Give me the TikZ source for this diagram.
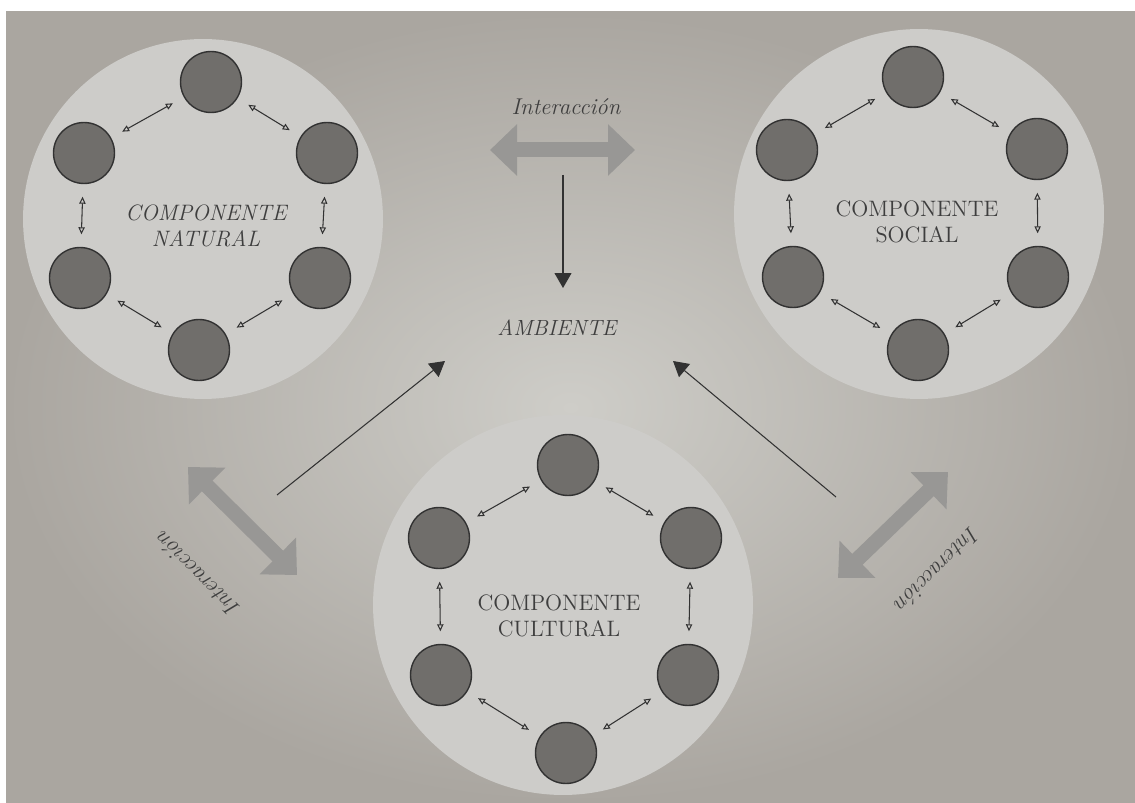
\documentclass[tikz,border=0pt]{standalone}
\usetikzlibrary{arrows.meta, positioning}
\definecolor{paperlight}{RGB}{206,205,200}
\definecolor{paperdark}{RGB}{170,166,160}
\definecolor{ringgray}{RGB}{205,204,201}
\definecolor{dotgray}{RGB}{112,110,107}
\definecolor{inkdark}{RGB}{50,50,50}
\definecolor{bandgray}{RGB}{152,151,149}
\definecolor{textdark}{RGB}{62,62,62}

\begin{document}
\begin{tikzpicture}[
    x=0.02cm, y=-0.02cm,
    ring/.style={circle, fill=ringgray, minimum size=#1, inner sep=0pt},
    dot/.style={circle, draw=inkdark, fill=dotgray, line width=0.8pt, minimum size=1.22cm, inner sep=0pt},
    link/.style={{Triangle[open,length=4pt,width=3.6pt]}-{Triangle[open,length=4pt,width=3.6pt]}, draw=inkdark, line width=0.6pt, shorten <=0.25cm, shorten >=0.25cm},
    band/.style={{Triangle[length=0.54cm,width=1cm]}-{Triangle[length=0.54cm,width=1cm]}, draw=bandgray, line width=0.3cm},
    pointer/.style={-{Triangle[length=0.3cm,width=0.34cm]}, draw=inkdark, line width=0.6pt},
    comptext/.style={align=center, text=textdark, font=\fontsize{12.7}{14.8}\selectfont},
    bandtext/.style={text=textdark, font=\fontsize{13}{15}\selectfont\itshape},
]

% Paper
\useasboundingbox (0,0) rectangle (1135,803);
\shade[inner color=paperlight, outer color=paperdark] (6,12) rectangle (1135,803);

% Components
\node[ring=7.2cm] (natural) at (203,219) {};
\node[ring=7.4cm] (social) at (919,214) {};
\node[ring=7.6cm] (cultural) at (563,605) {};

\node[comptext, font=\fontsize{12.7}{14.8}\selectfont\itshape] (naturaltext) at (206,226) {COMPONENTE\\NATURAL};
\node[comptext] (socialtext) at (917,222) {COMPONENTE\\SOCIAL};
\node[comptext] (culturaltext) at (559,616) {COMPONENTE\\CULTURAL};

% Natural elements
\node[dot] (n1) at (211,82) {};
\node[dot] (n2) at (327,153) {};
\node[dot] (n3) at (320,278) {};
\node[dot] (n4) at (199,350) {};
\node[dot] (n5) at (80,278) {};
\node[dot] (n6) at (84,153) {};

\draw[link] (n1) -- (n2);
\draw[link] (n2) -- (n3);
\draw[link] (n3) -- (n4);
\draw[link] (n4) -- (n5);
\draw[link] (n5) -- (n6);
\draw[link] (n6) -- (n1);

% Social elements
\node[dot] (s1) at (913,77) {};
\node[dot] (s2) at (1037,149) {};
\node[dot] (s3) at (1038,277) {};
\node[dot] (s4) at (918,350) {};
\node[dot] (s5) at (793,277) {};
\node[dot] (s6) at (787,150) {};

\draw[link] (s1) -- (s2);
\draw[link] (s2) -- (s3);
\draw[link] (s3) -- (s4);
\draw[link] (s4) -- (s5);
\draw[link] (s5) -- (s6);
\draw[link] (s6) -- (s1);

% Cultural elements
\node[dot] (c1) at (568,465) {};
\node[dot] (c2) at (691,538) {};
\node[dot] (c3) at (688,675) {};
\node[dot] (c4) at (566,753) {};
\node[dot] (c5) at (441,675) {};
\node[dot] (c6) at (439,538) {};

\draw[link] (c1) -- (c2);
\draw[link] (c2) -- (c3);
\draw[link] (c3) -- (c4);
\draw[link] (c4) -- (c5);
\draw[link] (c5) -- (c6);
\draw[link] (c6) -- (c1);

% Environment
\node[comptext, font=\fontsize{12.5}{14.8}\selectfont\itshape] (ambiente) at (557,328) {AMBIENTE};

% Interactions
\coordinate (topleft) at (490,150);
\coordinate (topright) at (635,150);
\coordinate (leftup) at (188,467);
\coordinate (leftdown) at (297,575);
\coordinate (rightup) at (948,472);
\coordinate (rightdown) at (838,578);

\draw[band] (topleft) -- (topright);
\draw[band] (leftup) -- (leftdown);
\draw[band] (rightup) -- (rightdown);

\node[bandtext] (toptext) at (566,107) {Interacción};
\node[bandtext, rotate=135] (lefttext) at (197,575) {Interacción};
\node[bandtext, rotate=-135] (righttext) at (938,570) {Interacción};

% Pointers to the environment
\coordinate (topfrom) at (563,175);
\coordinate (topto) at (563,288);
\coordinate (leftfrom) at (277,495);
\coordinate (leftto) at (445,361);
\coordinate (rightfrom) at (836,497);
\coordinate (rightto) at (673,361);

\draw[pointer] (topfrom) -- (topto);
\draw[pointer] (leftfrom) -- (leftto);
\draw[pointer] (rightfrom) -- (rightto);

\end{tikzpicture}
\end{document}
